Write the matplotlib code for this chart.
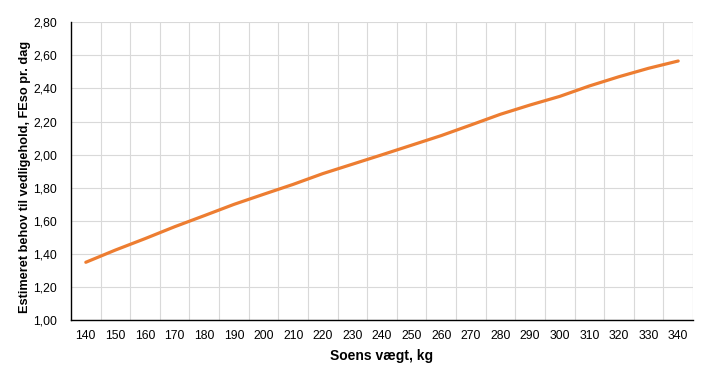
import matplotlib.pyplot as plt
import numpy as np
from matplotlib.ticker import FuncFormatter

plt.rcParams['font.family'] = ['Liberation Sans', 'DejaVu Sans']

# Data
weights = [140, 150, 160, 170, 180, 190, 200, 210, 220, 230, 240,
           250, 260, 270, 280, 290, 300, 310, 320, 330, 340]
behov = [1.349, 1.423, 1.492, 1.564, 1.631, 1.699, 1.760, 1.820, 1.885, 1.942, 1.999,
         2.057, 2.115, 2.179, 2.244, 2.300, 2.352, 2.415, 2.471, 2.522, 2.566]

fig = plt.figure(figsize=(7.06, 3.71), dpi=100)
ax = fig.add_axes([71/706, 51/371, 622/706, 297.7/371])

x = np.arange(len(weights))
ax.plot(x, behov, color='#ED7D31', linewidth=2.3, solid_capstyle='round')

ax.set_xlim(-0.5, len(weights) - 0.5)
ax.set_ylim(1.0, 2.8)
ax.set_xticks(x)
ax.set_xticklabels([str(w) for w in weights], fontsize=8.8)
ax.set_xticks(np.arange(0.5, len(weights), 1.0), minor=True)
ax.set_yticks(np.arange(1.0, 2.81, 0.2))
ax.yaxis.set_major_formatter(FuncFormatter(lambda v, p: f"{v:.2f}".replace('.', ',')))
ax.tick_params(axis='y', labelsize=8.8, length=0, pad=10)
ax.tick_params(axis='x', which='both', length=0, pad=7)

ax.grid(True, axis='y', which='major', color='#d9d9d9', linewidth=0.8)
ax.grid(True, axis='x', which='minor', color='#d9d9d9', linewidth=0.8)
ax.set_axisbelow(True)

for s in ['top', 'right']:
    ax.spines[s].set_visible(False)
ax.axvline(len(weights) - 0.5, color='#d9d9d9', linewidth=0.8, zorder=0)
ax.spines['left'].set_color('black')
ax.spines['bottom'].set_color('black')
ax.spines['left'].set_linewidth(1.0)
ax.spines['bottom'].set_linewidth(1.0)

ax.set_xlabel('Soens vægt, kg', fontsize=10, fontweight='bold', labelpad=5)
ax.set_ylabel('Estimeret behov til vedligehold, FEso pr. dag', fontsize=9.2,
              fontweight='bold', labelpad=3)
ax.yaxis.set_label_coords(-0.064, 0.48)

fig.savefig('out.png', dpi=100)
